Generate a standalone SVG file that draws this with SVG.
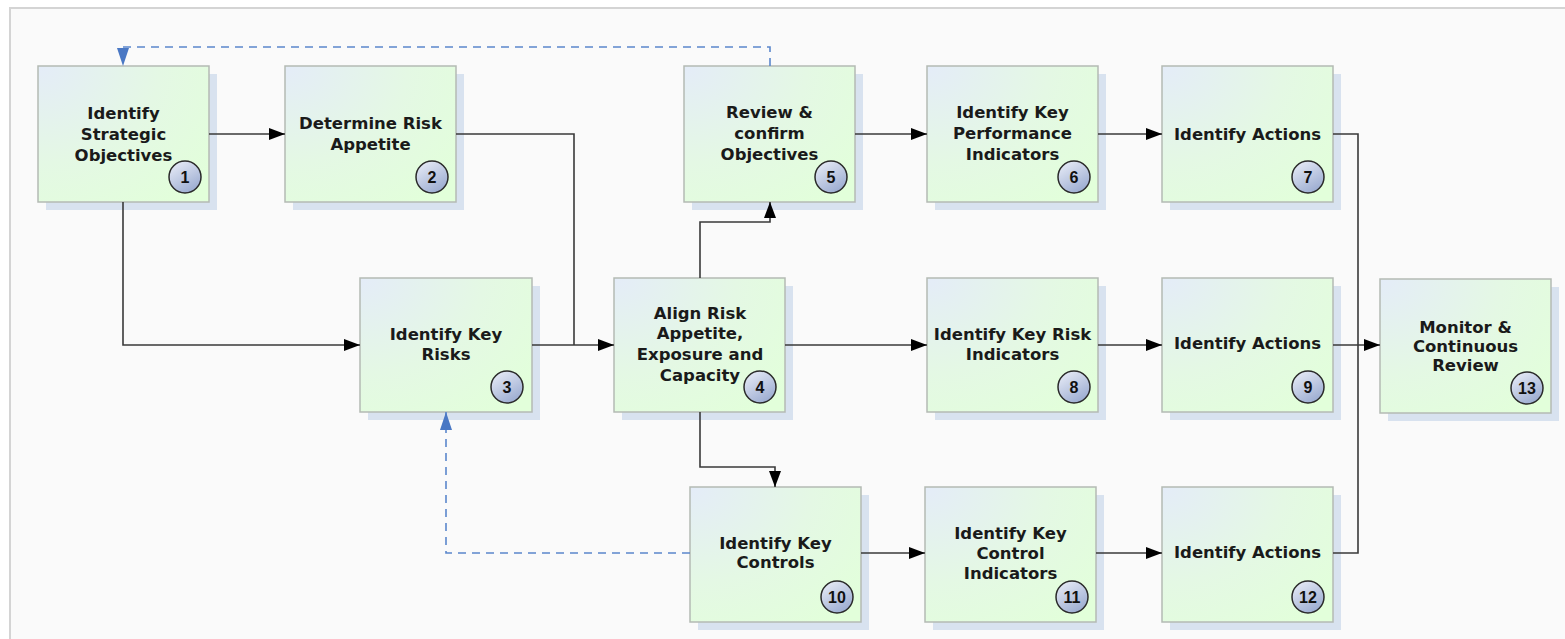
<svg xmlns="http://www.w3.org/2000/svg" width="1565" height="639" viewBox="0 0 1565 639">
  <defs>
    <radialGradient id="nodeFill" cx="0" cy="0" r="1.3" gradientUnits="objectBoundingBox">
      <stop offset="0" stop-color="#e4ecf8"/>
      <stop offset="0.55" stop-color="#e4f8e4"/>
      <stop offset="1" stop-color="#e2ffda"/>
    </radialGradient>
    <linearGradient id="badgeFill" x1="0" y1="0" x2="0.6" y2="1">
      <stop offset="0" stop-color="#eef1fa"/>
      <stop offset="1" stop-color="#9eaed2"/>
    </linearGradient>
    <marker id="arrow" viewBox="0 0 16 12" refX="16" refY="6" markerWidth="16" markerHeight="12" markerUnits="userSpaceOnUse" orient="auto">
      <path d="M0,0 L16,6 L0,12 Z" fill="#000"/>
    </marker>
    <marker id="arrowB" viewBox="0 0 18 12" refX="18" refY="6" markerWidth="18" markerHeight="12" markerUnits="userSpaceOnUse" orient="auto">
      <path d="M0,0 L18,6 L0,12 Z" fill="#4a78c4"/>
    </marker>
  </defs>
  <style>
    .frame { fill: #fafafa; stroke: #d4d4d4; stroke-width: 2; }
    .shadow { fill: #d8e2ef; }
    .box { fill: url(#nodeFill); stroke: #b4bab4; stroke-width: 1.5; }
    .label { font-family: "DejaVu Sans", Verdana, sans-serif; font-weight: bold; font-size: 16.5px; fill: #1a1a1a; text-anchor: middle; }
    .badge { fill: url(#badgeFill); stroke: #2a2a2a; stroke-width: 1.5; }
    .num { font-family: "Liberation Sans", Arial, sans-serif; font-weight: bold; font-size: 16px; fill: #111; text-anchor: middle; }
    .link { fill: none; stroke: #3a3a3a; stroke-width: 1.6; marker-end: url(#arrow); }
    .plain { fill: none; stroke: #3a3a3a; stroke-width: 1.6; }
    .feedback { fill: none; stroke: #5b87cc; stroke-width: 1.6; stroke-dasharray: 8 6; marker-end: url(#arrowB); }
  </style>

  <rect class="frame" x="10" y="8" width="1570" height="650"/>

  <!-- 1 -->
  <g id="node1">
    <rect class="shadow" x="46" y="74" width="171" height="136"/>
    <rect class="box" x="38" y="66" width="171" height="136"/>
    <text class="label" x="123.5" y="119">Identify</text>
    <text class="label" x="123.5" y="140">Strategic</text>
    <text class="label" x="123.5" y="161">Objectives</text>
    <circle class="badge" cx="185" cy="177" r="16"/>
    <text class="num" x="185" y="183">1</text>
  </g>

  <!-- 2 -->
  <g id="node2">
    <rect class="shadow" x="293" y="74" width="171" height="136"/>
    <rect class="box" x="285" y="66" width="171" height="136"/>
    <text class="label" x="370.5" y="129">Determine Risk</text>
    <text class="label" x="370.5" y="150">Appetite</text>
    <circle class="badge" cx="432" cy="177" r="16"/>
    <text class="num" x="432" y="183">2</text>
  </g>

  <!-- 3 -->
  <g id="node3">
    <rect class="shadow" x="368" y="286" width="172" height="134"/>
    <rect class="box" x="360" y="278" width="172" height="134"/>
    <text class="label" x="446" y="340">Identify Key</text>
    <text class="label" x="446" y="360">Risks</text>
    <circle class="badge" cx="507" cy="387" r="16"/>
    <text class="num" x="507" y="393">3</text>
  </g>

  <!-- 4 -->
  <g id="node4">
    <rect class="shadow" x="622" y="286" width="171" height="134"/>
    <rect class="box" x="614" y="278" width="171" height="134"/>
    <text class="label" x="700" y="319">Align Risk</text>
    <text class="label" x="700" y="339">Appetite,</text>
    <text class="label" x="700" y="360">Exposure and</text>
    <text class="label" x="700" y="381">Capacity</text>
    <circle class="badge" cx="760" cy="387" r="16"/>
    <text class="num" x="760" y="393">4</text>
  </g>

  <!-- 5 -->
  <g id="node5">
    <rect class="shadow" x="692" y="74" width="171" height="136"/>
    <rect class="box" x="684" y="66" width="171" height="136"/>
    <text class="label" x="769.5" y="118">Review &amp;</text>
    <text class="label" x="769.5" y="139">confirm</text>
    <text class="label" x="769.5" y="160">Objectives</text>
    <circle class="badge" cx="831" cy="177" r="16"/>
    <text class="num" x="831" y="183">5</text>
  </g>

  <!-- 6 -->
  <g id="node6">
    <rect class="shadow" x="935" y="74" width="171" height="136"/>
    <rect class="box" x="927" y="66" width="171" height="136"/>
    <text class="label" x="1012.5" y="118">Identify Key</text>
    <text class="label" x="1012.5" y="139">Performance</text>
    <text class="label" x="1012.5" y="160">Indicators</text>
    <circle class="badge" cx="1074" cy="177" r="16"/>
    <text class="num" x="1074" y="183">6</text>
  </g>

  <!-- 7 -->
  <g id="node7">
    <rect class="shadow" x="1170" y="74" width="171" height="136"/>
    <rect class="box" x="1162" y="66" width="171" height="136"/>
    <text class="label" x="1247.5" y="140">Identify Actions</text>
    <circle class="badge" cx="1308" cy="177" r="16"/>
    <text class="num" x="1308" y="183">7</text>
  </g>

  <!-- 8 -->
  <g id="node8">
    <rect class="shadow" x="935" y="286" width="171" height="134"/>
    <rect class="box" x="927" y="278" width="171" height="134"/>
    <text class="label" x="1012.5" y="340">Identify Key Risk</text>
    <text class="label" x="1012.5" y="360">Indicators</text>
    <circle class="badge" cx="1074" cy="387" r="16"/>
    <text class="num" x="1074" y="393">8</text>
  </g>

  <!-- 9 -->
  <g id="node9">
    <rect class="shadow" x="1170" y="286" width="171" height="134"/>
    <rect class="box" x="1162" y="278" width="171" height="134"/>
    <text class="label" x="1247.5" y="349">Identify Actions</text>
    <circle class="badge" cx="1308" cy="387" r="16"/>
    <text class="num" x="1308" y="393">9</text>
  </g>

  <!-- 13 -->
  <g id="node13">
    <rect class="shadow" x="1388" y="287" width="171" height="134"/>
    <rect class="box" x="1380" y="279" width="171" height="134"/>
    <text class="label" x="1465.5" y="333">Monitor &amp;</text>
    <text class="label" x="1465.5" y="352">Continuous</text>
    <text class="label" x="1465.5" y="371">Review</text>
    <circle class="badge" cx="1527" cy="388" r="16"/>
    <text class="num" x="1527" y="394">13</text>
  </g>

  <!-- 10 -->
  <g id="node10">
    <rect class="shadow" x="698" y="495" width="171" height="135"/>
    <rect class="box" x="690" y="487" width="171" height="135"/>
    <text class="label" x="775.5" y="549">Identify Key</text>
    <text class="label" x="775.5" y="568">Controls</text>
    <circle class="badge" cx="837" cy="597" r="16"/>
    <text class="num" x="837" y="603">10</text>
  </g>

  <!-- 11 -->
  <g id="node11">
    <rect class="shadow" x="933" y="495" width="171" height="135"/>
    <rect class="box" x="925" y="487" width="171" height="135"/>
    <text class="label" x="1010.5" y="539">Identify Key</text>
    <text class="label" x="1010.5" y="559">Control</text>
    <text class="label" x="1010.5" y="579">Indicators</text>
    <circle class="badge" cx="1072" cy="597" r="16"/>
    <text class="num" x="1072" y="603">11</text>
  </g>

  <!-- 12 -->
  <g id="node12">
    <rect class="shadow" x="1170" y="495" width="171" height="135"/>
    <rect class="box" x="1162" y="487" width="171" height="135"/>
    <text class="label" x="1247.5" y="558">Identify Actions</text>
    <circle class="badge" cx="1308" cy="597" r="16"/>
    <text class="num" x="1308" y="603">12</text>
  </g>

  <!-- connectors, drawn over the node shadows -->
  <g id="connectors">
    <path class="link" d="M209,134 H285"/>
    <path class="link" d="M123,202 V345 H360"/>
    <path class="plain" d="M456,134 H574 V345"/>
    <path class="link" d="M532,345 H614"/>
    <path class="link" d="M700,278 V222 H770 V202"/>
    <path class="link" d="M855,134 H927"/>
    <path class="link" d="M1098,134 H1162"/>
    <path class="plain" d="M1333,134 H1358 V553 H1333"/>
    <path class="link" d="M1333,345 H1380"/>
    <path class="link" d="M785,345 H927"/>
    <path class="link" d="M1098,345 H1162"/>
    <path class="link" d="M700,412 V467 H775 V487"/>
    <path class="link" d="M861,553 H925"/>
    <path class="link" d="M1096,553 H1162"/>
    <path class="feedback" d="M770,66 V47 H123 V66"/>
    <path class="feedback" d="M690,553 H446 V412"/>
  </g>
</svg>
